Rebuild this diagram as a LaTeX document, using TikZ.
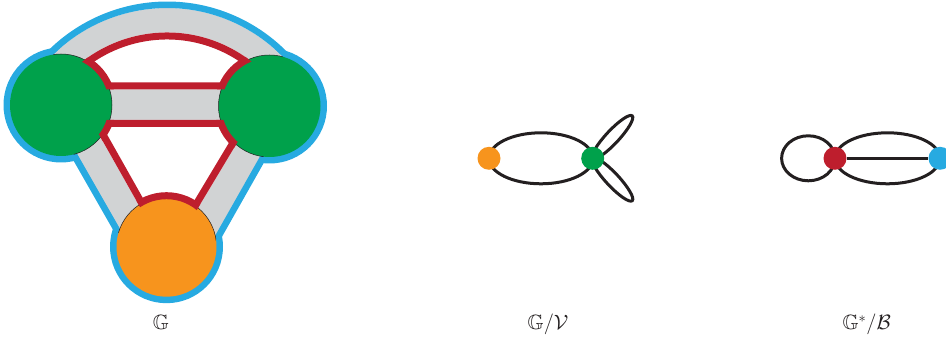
\documentclass[tikz,border=0pt]{standalone}
\usepackage{amssymb}
\definecolor{vgreen}{HTML}{00A14B}
\definecolor{vorange}{HTML}{F7941D}
\definecolor{vblue}{HTML}{27AAE1}
\definecolor{fred}{HTML}{BE1E2D}
\definecolor{rgray}{HTML}{D1D3D4}
\definecolor{ink}{HTML}{231F20}
\pgfdeclarelayer{bg}
\pgfsetlayers{bg,main}
\tikzset{
  edge/.style={ink, line width=3pt},
  vtx/.style={circle, inner sep=0pt, minimum size=23pt},
  lbl/.style={anchor=base, text=ink, font=\fontsize{20.74}{24}\selectfont},
  rim/.style={vblue, line width=6.5pt},
  band/.style={fred, line width=14pt},
}
\begin{document}
\begin{tikzpicture}[x=1pt, y=-1pt]
  \useasboundingbox (0,0) rectangle (946,339);
  \clip (0,0) rectangle (946,339);

  % 1. ribbon graph: disk centres, centre of the top ribbon
  \coordinate (L) at (61,105);
  \coordinate (R) at (269.5,106);
  \coordinate (B) at (166.5,246.7);
  \coordinate (C) at (167,170);

  % blue rim round the disks
  \fill[vblue] (L) circle[radius=57.5] (R) circle[radius=57.5] (B) circle[radius=56.5];

  % 2. ribbons
  \fill[rgray] ([shift={(-150:162)}]C) arc[start angle=-150, end angle=-30, radius=162]
    -- ([shift={(-30:131)}]C) arc[start angle=-30, end angle=-150, radius=131] -- cycle;
  \fill[rgray] (83.6,100.2) -- (157.4,230.8) -- (129.6,252.2) -- (55.2,122) -- cycle;
  \fill[rgray] (252.3,110.7) -- (175.1,239.3) -- (207.5,255.8) -- (281.4,125.2) -- cycle;
  \fill[rgray] (61,82) rectangle (269.5,127);
  \draw[rim] ([shift={(-150:165.2)}]C) arc[start angle=-150, end angle=-30, radius=165.2];
  \draw[rim] (55.2,122) -- (129.6,252.2);
  \draw[rim] (281.4,125.2) -- (207.5,255.8);

  % 3. faces, red boundary inside
  \fill[white] ([shift={(-150:137.5)}]C) arc[start angle=-150, end angle=-30, radius=137.5]
    -- (269.5,89.5) -- (61,89.5) -- cycle;
  \fill[white] (90.7,119.8) -- (250.9,119.8) -- (178.1,241.1) -- (154.3,232.5) -- cycle;
  \begin{scope}
    \clip ([shift={(-150:137.5)}]C) arc[start angle=-150, end angle=-30, radius=137.5]
      -- (269.5,89.5) -- (61,89.5) -- cycle;
    \draw[band] ([shift={(-150:137.5)}]C) arc[start angle=-150, end angle=-30, radius=137.5]
      -- (269.5,89.5) -- (61,89.5) -- cycle;
  \end{scope}
  \begin{scope}
    \clip (90.7,119.8) -- (250.9,119.8) -- (178.1,241.1) -- (154.3,232.5) -- cycle;
    \draw[band] (90.7,119.8) -- (250.9,119.8) -- (178.1,241.1) -- (154.3,232.5) -- cycle;
  \end{scope}

  % 4. disks
  \fill[vgreen] (L) circle[radius=51] (R) circle[radius=51];
  \fill[vorange] (B) circle[radius=50];
  \begin{scope}
    \clip ([shift={(-150:162)}]C) arc[start angle=-150, end angle=-30, radius=162]
      -- ([shift={(-30:131)}]C) arc[start angle=-30, end angle=-150, radius=131] -- cycle
      (83.6,100.2) -- (157.4,230.8) -- (129.6,252.2) -- (55.2,122) -- cycle
      (252.3,110.7) -- (175.1,239.3) -- (207.5,255.8) -- (281.4,125.2) -- cycle
      (61,82) rectangle (269.5,127);
    \draw[ink, line width=0.5pt] (L) circle[radius=51] (R) circle[radius=51] (B) circle[radius=50];
  \end{scope}
  \begin{scope}
    \clip ([shift={(-150:137.5)}]C) arc[start angle=-150, end angle=-30, radius=137.5]
      -- (269.5,89.5) -- (61,89.5) -- cycle;
    \draw[fred, line width=7pt] (L) circle[radius=51.5] (R) circle[radius=51.5];
  \end{scope}
  \begin{scope}
    \clip (90.7,119.8) -- (250.9,119.8) -- (178.1,241.1) -- (154.3,232.5) -- cycle;
    \draw[fred, line width=7pt] (L) circle[radius=51.5] (R) circle[radius=51.5] (B) circle[radius=51];
  \end{scope}

  % 5. quotient G/V
  \node[vtx, fill=vorange] (o) at (489,158.3) {};
  \node[vtx, fill=vgreen] (g) at (592.7,158.3) {};
  \begin{pgfonlayer}{bg}
    \draw[edge] (o.center) arc[start angle=180, end angle=540, x radius=52, y radius=25.5];
    \draw[edge, rotate around={47:(g.center)}] (g.center) arc[start angle=180, end angle=540, x radius=29, y radius=6.5];
    \draw[edge, rotate around={-47:(g.center)}] (g.center) arc[start angle=180, end angle=540, x radius=29, y radius=6.5];
  \end{pgfonlayer}

  % 6. quotient G*/B
  \node[vtx, fill=fred] (r) at (835,158.3) {};
  \node[vtx, fill=vblue] (b) at (940,158.3) {};
  \begin{pgfonlayer}{bg}
    \draw[edge] (r.center) arc[start angle=0, end angle=360, x radius=26.7, y radius=22.5];
    \draw[edge] (r.center) arc[start angle=180, end angle=540, x radius=52.5, y radius=25.5];
    \draw[edge] (r) -- (b);
  \end{pgfonlayer}

  % 7. labels
  \node[lbl] (tG) at (161,330) {$\mathbb{G}$};
  \node[lbl] (tGV) at (548,330) {$\mathbb{G}/\mathcal{V}$};
  \node[lbl] (tGB) at (866.7,330) {$\mathbb{G}^*/\mathcal{B}$};
\end{tikzpicture}
\end{document}
